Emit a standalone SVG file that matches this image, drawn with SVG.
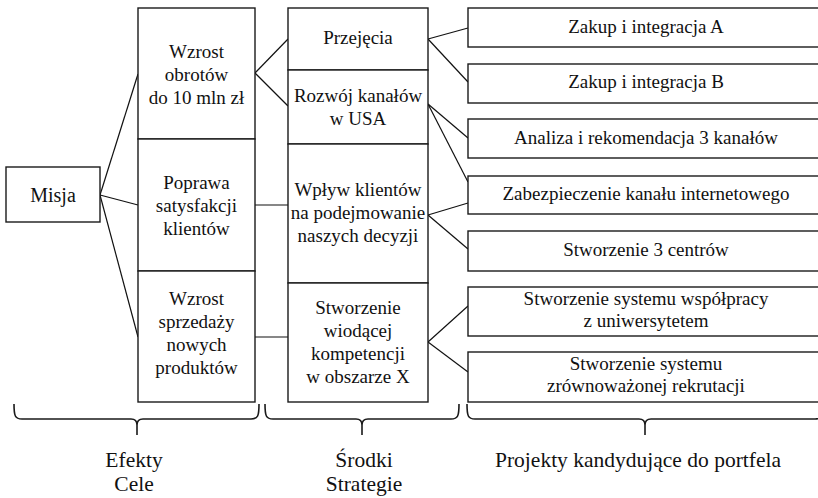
<svg xmlns="http://www.w3.org/2000/svg" width="818" height="498" viewBox="0 0 818 498">
<style>
.box{fill:#fff;stroke:#1a1a1a;stroke-width:1.4}
.t{font-family:"Liberation Serif","Times New Roman",serif;font-size:19px;fill:#111;text-anchor:middle}
.lbl{font-family:"Liberation Serif","Times New Roman",serif;font-size:21.5px;fill:#111;text-anchor:middle}
.con line{stroke:#111;stroke-width:1.2}
.brace{fill:none;stroke:#1a1a1a;stroke-width:1.6}
</style>
<rect width="818" height="498" fill="#fff"/>
<g class="con">
<line x1="100" y1="195" x2="138" y2="74"/>
<line x1="100" y1="195" x2="138" y2="205"/>
<line x1="100" y1="195" x2="138" y2="337"/>
<line x1="255" y1="73" x2="288" y2="39"/>
<line x1="255" y1="73" x2="288" y2="106"/>
<line x1="255" y1="205" x2="288" y2="205"/>
<line x1="255" y1="337" x2="288" y2="337"/>
<line x1="428" y1="39" x2="468" y2="28"/>
<line x1="428" y1="39" x2="468" y2="82"/>
<line x1="428" y1="104" x2="468" y2="138"/>
<line x1="428" y1="104" x2="468" y2="182"/>
<line x1="428" y1="215" x2="468" y2="203"/>
<line x1="428" y1="215" x2="468" y2="249"/>
<line x1="428" y1="342" x2="468" y2="306"/>
<line x1="428" y1="342" x2="468" y2="372"/>
</g>
<g id="misja"><rect class="box" x="6" y="167" width="94" height="55"/><text class="t" x="53" y="202" style="font-size:20px">Misja</text></g>
<g id="cel1"><rect class="box" x="138" y="8" width="117" height="131"/><text class="t" x="196.5" y="58">Wzrost</text><text class="t" x="196.5" y="81">obrotów</text><text class="t" x="196.5" y="104">do 10 mln zł</text></g>
<g id="cel2"><rect class="box" x="138" y="139" width="117" height="132"/><text class="t" x="196.5" y="189">Poprawa</text><text class="t" x="196.5" y="212">satysfakcji</text><text class="t" x="196.5" y="235">klientów</text></g>
<g id="cel3"><rect class="box" x="138" y="271" width="117" height="131"/><text class="t" x="196.5" y="305">Wzrost</text><text class="t" x="196.5" y="328">sprzedaży</text><text class="t" x="196.5" y="351">nowych</text><text class="t" x="196.5" y="374">produktów</text></g>
<g id="str1"><rect class="box" x="288" y="8" width="140" height="62"/><text class="t" x="358" y="44">Przejęcia</text></g>
<g id="str2"><rect class="box" x="288" y="70" width="140" height="74"/><text class="t" x="358" y="102">Rozwój kanałów</text><text class="t" x="358" y="125">w USA</text></g>
<g id="str3"><rect class="box" x="288" y="144" width="140" height="139"/><text class="t" x="358" y="196">Wpływ klientów</text><text class="t" x="358" y="219">na podejmowanie</text><text class="t" x="358" y="242">naszych decyzji</text></g>
<g id="str4"><rect class="box" x="288" y="283" width="140" height="119"/><text class="t" x="358" y="314">Stworzenie</text><text class="t" x="358" y="337">wiodącej</text><text class="t" x="358" y="360">kompetencji</text><text class="t" x="358" y="383">w obszarze X</text></g>
<g id="p1"><rect class="box" x="468" y="8" width="360" height="39"/><text class="t" x="646" y="33">Zakup i integracja A</text></g>
<g id="p2"><rect class="box" x="468" y="64" width="360" height="39"/><text class="t" x="646" y="88">Zakup i integracja B</text></g>
<g id="p3"><rect class="box" x="468" y="119" width="360" height="39"/><text class="t" x="646" y="144">Analiza i rekomendacja 3 kanałów</text></g>
<g id="p4"><rect class="box" x="468" y="176" width="360" height="38"/><text class="t" x="646" y="200">Zabezpieczenie kanału internetowego</text></g>
<g id="p5"><rect class="box" x="468" y="231" width="360" height="40"/><text class="t" x="646" y="256">Stworzenie 3 centrów</text></g>
<g id="p6"><rect class="box" x="468" y="287" width="360" height="49"/><text class="t" x="646" y="305">Stworzenie systemu współpracy</text><text class="t" x="646" y="327">z uniwersytetem</text></g>
<g id="p7"><rect class="box" x="468" y="352" width="360" height="50"/><text class="t" x="646" y="370">Stworzenie systemu</text><text class="t" x="646" y="392">zrównoważonej rekrutacji</text></g>
<g id="braces">
<path class="brace" d="M14,404 C14,416 15,419 22,419 L131,419 C135,419 137,421 137,425 L137,435 M137,425 C137,421 139,419 143,419 L251,419 C258,419 259,416 259,404"/>
<path class="brace" d="M265,404 C265,416 266,419 273,419 L356,419 C360,419 362,421 362,425 L362,435 M362,425 C362,421 364,419 368,419 L451,419 C458,419 459,416 459,404"/>
<path class="brace" d="M467,404 C467,416 468,419 475,419 L639,419 C643,419 645,421 645,425 L645,435 M645,425 C645,421 647,419 651,419 L815,419 C822,419 823,416 823,404"/>
</g>
<g id="labels">
<text class="lbl" x="134" y="467">Efekty</text><text class="lbl" x="134" y="491">Cele</text>
<text class="lbl" x="364" y="467">Środki</text><text class="lbl" x="364" y="491">Strategie</text>
<text class="lbl" x="638" y="467">Projekty kandydujące do portfela</text>
</g>
</svg>
